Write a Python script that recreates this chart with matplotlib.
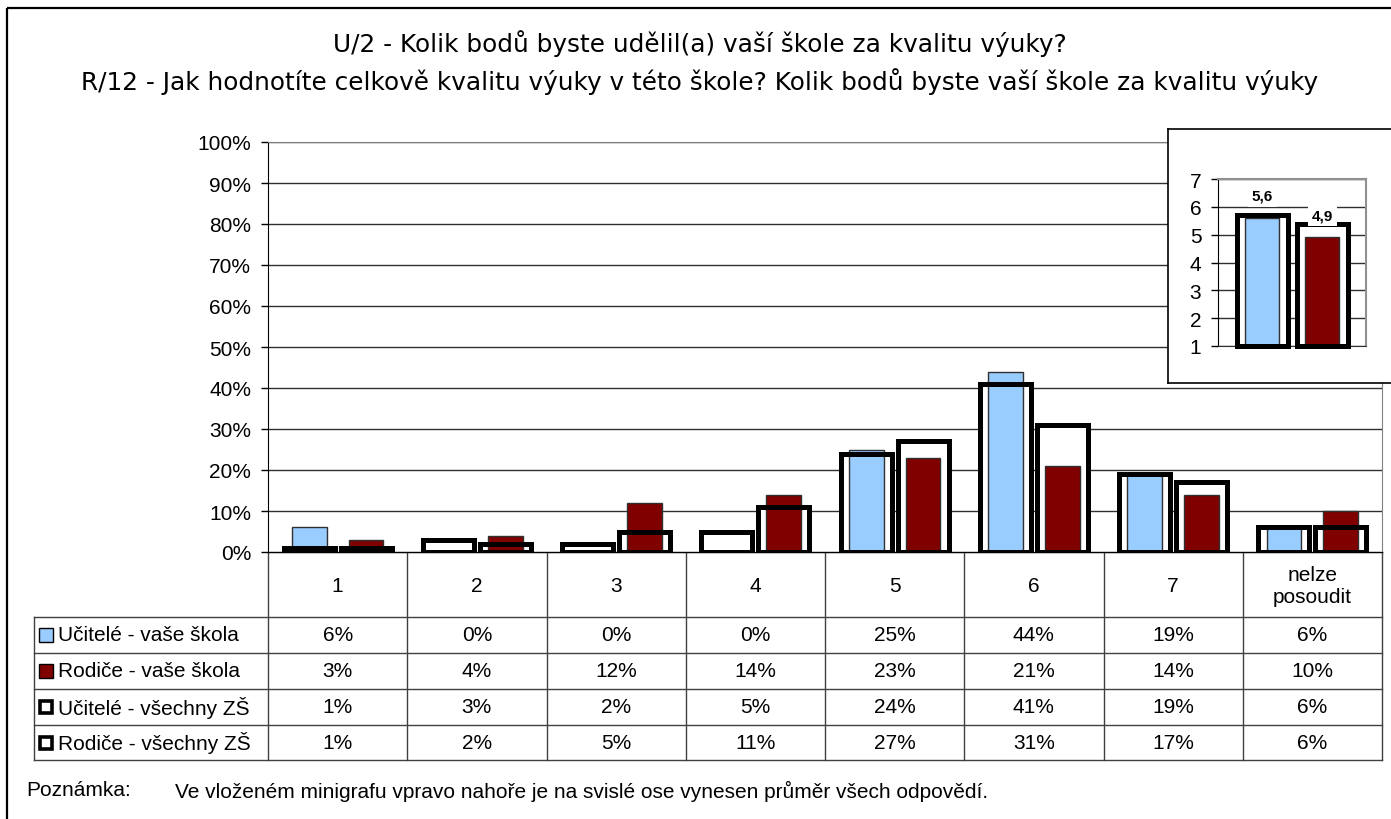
import numpy as np
import matplotlib
matplotlib.use('Agg')
import matplotlib.pyplot as plt
from matplotlib.patches import Rectangle

plt.rcParams['font.family'] = ['Liberation Sans', 'DejaVu Sans']

categories = ['1', '2', '3', '4', '5', '6', '7', 'nelze\nposoudit']
series_names = ['Učitelé - vaše škola', 'Rodiče - vaše škola',
                'Učitelé - všechny ZŠ', 'Rodiče - všechny ZŠ']
ucitele_skola = [6, 0, 0, 0, 25, 44, 19, 6]
rodice_skola = [3, 4, 12, 14, 23, 21, 14, 10]
ucitele_vse = [1, 3, 2, 5, 24, 41, 19, 6]
rodice_vse = [1, 2, 5, 11, 27, 31, 17, 6]

# minigraf - prumery
mini_skola = [5.6, 4.9]
mini_vse = [5.7, 5.4]
mini_labels = ['5,6', '4,9']

title1 = 'U/2 - Kolik bodů byste udělil(a) vaší škole za kvalitu výuky?'
title2 = 'R/12 - Jak hodnotíte celkově kvalitu výuky v této škole? Kolik bodů byste vaší škole za kvalitu výuky'
note1 = 'Poznámka:'
note2 = 'Ve vloženém minigrafu vpravo nahoře je na svislé ose vynesen průměr všech odpovědí.'

BLUE = '#99CCFF'
RED = '#800000'
W, H = 1391, 820
FS = 15


def px_axes(fig, x0, y0, x1, y1):
    # pixel box (top-left origin) -> figure axes
    return fig.add_axes([x0 / W, 1 - y1 / H, (x1 - x0) / W, (y1 - y0) / H])


fig = plt.figure(figsize=(W / 100, H / 100), dpi=100)

# background axes in pixel coords: border, titles, table
bg = fig.add_axes([0, 0, 1, 1])
bg.set_xlim(0, W)
bg.set_ylim(H, 0)
bg.axis('off')
bg.add_patch(Rectangle((7, 9), 1500, 1000, fill=False, lw=1.6, ec='black'))
t1 = bg.text(700, 44, title1, ha='center', va='center', fontsize=20, family='DejaVu Sans')
t2 = bg.text(700, 82, title2, ha='center', va='center', fontsize=20, family='DejaVu Sans')
# fit the title width to the original
fig.canvas.draw()
tw = t2.get_window_extent().width
tfs = 20 * 1235 / tw
t1.set_fontsize(tfs)
t2.set_fontsize(tfs)
bg.text(26, 791, note1, ha='left', va='center', fontsize=FS)
bg.text(175, 791, note2, ha='left', va='center', fontsize=FS)

# main chart
ax_l, ax_r, ax_t, ax_b = 268, 1382, 143, 553
ax = px_axes(fig, ax_l, ax_t, ax_r, ax_b)
x = np.arange(len(categories))
ow, fw, off = 0.366, 0.25, 0.204
for vals, sgn in [(ucitele_vse, -1), (rodice_vse, 1)]:
    ax.bar(x + sgn * off, vals, ow, color='white', lw=0, zorder=2)
    ax.bar(x + sgn * off, vals, ow, fill=False, ec='black', lw=3.6, zorder=4)
ax.bar(x - off, ucitele_skola, fw, color=BLUE, ec='#303030', lw=1.0, zorder=3)
ax.bar(x + off, rodice_skola, fw, color=RED, ec='#303030', lw=1.0, zorder=3)
ax.set_xlim(-0.5, len(categories) - 0.5)
ax.set_ylim(0, 100)
ax.set_yticks(np.arange(0, 101, 10))
ax.set_yticklabels([f'{v}%' for v in range(0, 101, 10)], fontsize=FS)
ax.set_xticks([])
ax.yaxis.grid(True, color='#303030', lw=1.0, zorder=1)
ax.set_axisbelow(True)
ax.tick_params(axis='y', length=5, width=1, direction='out', pad=7)
for s in ['top', 'right']:
    ax.spines[s].set_color('#808080')
ax.spines['left'].set_color('black')
ax.spines['bottom'].set_color('black')

# data table under the chart
cw = (ax_r - ax_l) / len(categories)
rows_y = [618, 654, 690, 726, 761]
tl = 34
bg.plot([ax_l, ax_r], [ax_b, ax_b], color='black', lw=1)
for yy in rows_y:
    bg.plot([tl, ax_r], [yy, yy], color='#404040', lw=1)
bg.plot([tl, tl], [rows_y[0], rows_y[-1]], color='#404040', lw=1)
for i in range(len(categories) + 1):
    xx = ax_l + i * cw
    bg.plot([xx, xx], [ax_b, rows_y[-1]], color='#404040', lw=1)
for i, c in enumerate(categories):
    bg.text(ax_l + (i + 0.5) * cw, (ax_b + rows_y[0]) / 2 + 1, c,
            ha='center', va='center', fontsize=FS, linespacing=1.2)
table_vals = [ucitele_skola, rodice_skola, ucitele_vse, rodice_vse]
for r, (name, vals) in enumerate(zip(series_names, table_vals)):
    yc = (rows_y[r] + rows_y[r + 1]) / 2
    if r < 2:
        bg.add_patch(Rectangle((39, yc - 7), 14, 14, fc=[BLUE, RED][r], ec='black', lw=1))
    else:
        bg.add_patch(Rectangle((40, yc - 6), 12, 12, fc='white', ec='black', lw=2.6))
    bg.text(58, yc, name, ha='left', va='center', fontsize=FS)
    for i, v in enumerate(vals):
        bg.text(ax_l + (i + 0.5) * cw, yc, f'{v}%', ha='center', va='center', fontsize=FS)

# inset box
box = px_axes(fig, 1168, 130, 1420, 384)
box.set_xticks([])
box.set_yticks([])
for s in box.spines.values():
    s.set_color('black')
    s.set_linewidth(1.2)

# minigraf
ins = px_axes(fig, 1218, 180, 1366, 347)
mx = np.array([0.30, 0.705])
ins.bar(mx, np.array(mini_vse) - 1, 0.345, bottom=1, color='white', lw=0, zorder=2)
ins.bar(mx, np.array(mini_skola) - 1, 0.23, bottom=1, color=[BLUE, RED],
        ec='#303030', lw=1.0, zorder=3)
ins.bar(mx, np.array(mini_vse) - 1, 0.345, bottom=1, fill=False, ec='black',
        lw=3.6, zorder=4, clip_on=False)
for xi, v, lab in zip(mx, mini_skola, mini_labels):
    ins.annotate(lab, (xi, v), xytext=(0, 11), textcoords='offset points',
                 ha='center', va='bottom', fontsize=11, fontweight='bold', zorder=6,
                 bbox=dict(boxstyle='square,pad=0.25', fc='white', ec='none'))
ins.set_xlim(0, 1)
ins.set_ylim(1, 7)
ins.set_yticks(range(1, 8))
ins.set_xticks([])
ins.tick_params(axis='y', labelsize=FS, length=5, width=1, pad=7)
ins.yaxis.grid(True, color='#303030', lw=1.0, zorder=1)
ins.set_axisbelow(True)
for s in ['top', 'right']:
    ins.spines[s].set_color('#909090')
    ins.spines[s].set_linewidth(1.5)
ins.spines['bottom'].set_color('#303030')

fig.savefig('out.png', dpi=100)
